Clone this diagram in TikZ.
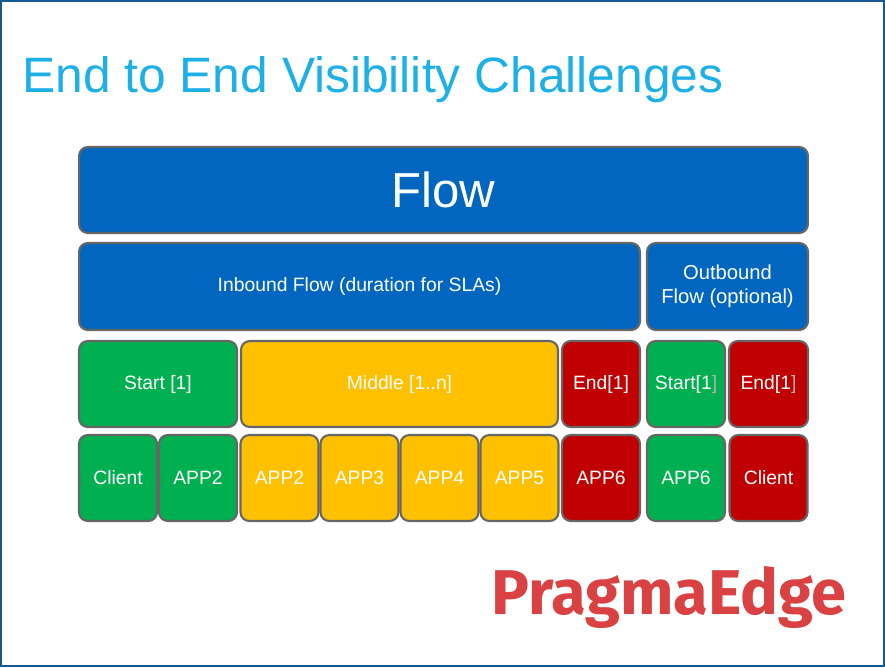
\documentclass[tikz,border=0pt]{standalone}
\usepackage{fontspec}
\setmainfont{Liberation Sans}
\newfontfamily\logofont{Fira Sans}
\usetikzlibrary{positioning}
\definecolor{flowblue}{RGB}{0,102,192}
\definecolor{stepgreen}{RGB}{0,176,80}
\definecolor{stepyellow}{RGB}{255,192,0}
\definecolor{stepred}{RGB}{192,0,0}
\definecolor{titleblue}{RGB}{29,176,230}
\definecolor{framecol}{RGB}{22,88,145}
\definecolor{logored}{RGB}{217,65,66}
\tikzset{
  cell/.style={draw=gray!80!black, line width=1.2pt, rounded corners=5pt,
    text=white, inner sep=0pt, align=center, font=\fontsize{11}{13}\selectfont},
  greencell/.style={cell, fill=stepgreen},
  yellowcell/.style={cell, fill=stepyellow},
  redcell/.style={cell, fill=stepred},
  bluecell/.style={cell, fill=flowblue},
}
\newcommand{\dimbr}{{\color{gray!60}]}}
\begin{document}
\begin{tikzpicture}[x=0.02cm,y=-0.02cm]
  \useasboundingbox (0,0) rectangle (885,667);
  \draw[framecol, line width=1.5pt] (1,1) rectangle (884,666);

  \node[titleblue, anchor=west, font=\fontsize{28.3}{32}\selectfont] (title) at (16,80)
    {End to End Visibility Challenges};

  % top rows
  \node[bluecell, font=\fontsize{28}{32}\selectfont,
    minimum width=14.58cm, minimum height=1.72cm] (flow) at (443.5,190) {Flow};
  \node[bluecell, minimum width=11.22cm, minimum height=1.74cm] (inbound) at (359.5,286.5)
    {Inbound Flow (duration for SLAs)};
  \node[bluecell, minimum width=3.22cm, minimum height=1.74cm, font=\fontsize{11.5}{13.5}\selectfont] (outbound) at (727.5,286.5)
    {Outbound\\Flow (optional)};

  % steps
  \node[greencell, minimum width=3.16cm, minimum height=1.72cm] (start) at (158,384) {Start [1]};
  \node[yellowcell, minimum width=6.34cm, minimum height=1.72cm] (middle) at (399.5,384) {Middle [1..n]};
  \node[redcell, minimum width=1.56cm, minimum height=1.72cm] (end) at (601,384) {End[1]};
  \node[greencell, minimum width=1.56cm, minimum height=1.72cm] (ostart) at (686,384) {Start[1\dimbr};
  \node[redcell, minimum width=1.58cm, minimum height=1.72cm] (oend) at (768.5,384) {End[1\dimbr};

  % applications
  \foreach \x/\s/\t [count=\i] in {118/greencell/Client, 198/greencell/APP2,
      279.5/yellowcell/APP2, 359.5/yellowcell/APP3, 439.5/yellowcell/APP4,
      519.5/yellowcell/APP5, 601/redcell/APP6, 686/greencell/APP6, 768.5/redcell/Client} {
    \node[\s, minimum width=1.56cm, minimum height=1.72cm] (app\i) at (\x,478) {\t};
  }

  \node[logored, font=\logofont\bfseries\fontsize{36}{40}\selectfont, anchor=center] (logo) at (669,598)
    {PragmaEdge};
\end{tikzpicture}
\end{document}
